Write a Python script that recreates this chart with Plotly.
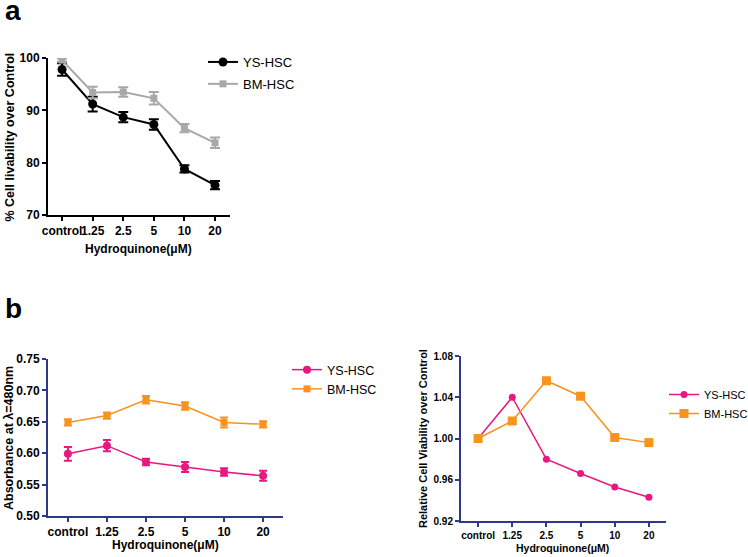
import plotly.graph_objects as go

W, H = 748, 557

categories = ["control", "1.25", "2.5", "5", "10", "20"]

# Panel a
a_ys = [97.8, 91.2, 88.7, 87.3, 78.8, 75.7]
a_ys_err = [1.2, 1.4, 1.0, 1.0, 0.7, 0.8]
a_bm = [99.6, 93.4, 93.5, 92.3, 86.6, 83.8]
a_bm_err = [0.3, 1.1, 0.9, 1.2, 0.8, 1.0]

# Panel b (left)
b_ys = [0.599, 0.612, 0.586, 0.578, 0.570, 0.564]
b_ys_err = [0.011, 0.009, 0.005, 0.008, 0.006, 0.008]
b_bm = [0.649, 0.660, 0.685, 0.675, 0.649, 0.646]
b_bm_err = [0.005, 0.005, 0.006, 0.006, 0.008, 0.005]

# Panel b (right)
c_ys = [1.000, 1.040, 0.980, 0.966, 0.953, 0.943]
c_bm = [1.000, 1.017, 1.056, 1.041, 1.001, 0.996]

PINK = "#E8187F"
ORANGE = "#F7931E"
GRAY = "#A8A8A8"
NAVY = "#2E3A87"
FONT = "Liberation Sans, Arial, sans-serif"

def px(x):
    return x / W

def py(y):
    return 1 - y / H

fig = go.Figure()

# Panel a traces
fig.add_trace(go.Scatter(x=categories, y=a_ys, name="YS-HSC", mode="lines+markers",
                         line=dict(color="black", width=2),
                         marker=dict(symbol="circle", size=9, color="black"),
                         error_y=dict(type="data", array=a_ys_err, color="black", thickness=2, width=5),
                         xaxis="x", yaxis="y", legend="legend", legendgroup="a1"))
fig.add_trace(go.Scatter(x=categories, y=a_bm, name="BM-HSC", mode="lines+markers",
                         line=dict(color=GRAY, width=2),
                         marker=dict(symbol="square", size=7, color=GRAY),
                         error_y=dict(type="data", array=a_bm_err, color=GRAY, thickness=2, width=5),
                         xaxis="x", yaxis="y", legend="legend", legendgroup="a2"))

# Panel b left traces
fig.add_trace(go.Scatter(x=categories, y=b_ys, name="YS-HSC", mode="lines+markers",
                         line=dict(color=PINK, width=1.5),
                         marker=dict(symbol="circle", size=8, color=PINK),
                         error_y=dict(type="data", array=b_ys_err, color=PINK, thickness=2, width=4),
                         xaxis="x2", yaxis="y2", legend="legend2"))
fig.add_trace(go.Scatter(x=categories, y=b_bm, name="BM-HSC", mode="lines+markers",
                         line=dict(color=ORANGE, width=1.5),
                         marker=dict(symbol="square", size=7, color=ORANGE),
                         error_y=dict(type="data", array=b_bm_err, color=ORANGE, thickness=2, width=4),
                         xaxis="x2", yaxis="y2", legend="legend2"))

# Panel b right traces
fig.add_trace(go.Scatter(x=categories, y=c_ys, name="YS-HSC", mode="lines+markers",
                         line=dict(color=PINK, width=1.5),
                         marker=dict(symbol="circle", size=7, color=PINK),
                         xaxis="x3", yaxis="y3", legend="legend3"))
fig.add_trace(go.Scatter(x=categories, y=c_bm, name="BM-HSC", mode="lines+markers",
                         line=dict(color=ORANGE, width=1.5),
                         marker=dict(symbol="square", size=9, color=ORANGE),
                         xaxis="x3", yaxis="y3", legend="legend3"))

def xax(domain, rng, color, size, anchor):
    return dict(domain=domain, range=rng, type="category", showgrid=False, zeroline=False,
                showline=True, linecolor=color, linewidth=2, ticks="outside", ticklen=4,
                tickwidth=1.5, tickcolor=color, tickangle=0, anchor=anchor, automargin=False,
                tickfont=dict(family=FONT, size=size, color="black", weight="bold"))

def yax(domain, rng, dtick, fmt, color, size, anchor):
    return dict(domain=domain, range=rng, dtick=dtick, tick0=rng[0], tickformat=fmt,
                showgrid=False, zeroline=False, showline=True, linecolor=color, linewidth=2,
                ticks="outside", ticklen=4, tickwidth=1.5, tickcolor=color, anchor=anchor,
                automargin=False,
                tickfont=dict(family=FONT, size=size, color="black", weight="bold"))

fig.update_layout(
    width=W, height=H, margin=dict(l=0, r=0, t=0, b=0, autoexpand=False),
    paper_bgcolor="white", plot_bgcolor="white",
    font=dict(family=FONT, color="black"),
    xaxis=xax([px(48), px(230)], [-0.46, 5.49], "black", 12, "y"),
    yaxis=yax([py(215), py(58)], [70, 100], 10, "d", "black", 12, "x"),
    xaxis2=xax([px(48), px(283)], [-0.51, 5.51], NAVY, 12, "y2"),
    yaxis2=yax([py(516), py(359)], [0.50, 0.75], 0.05, ".2f", NAVY, 12, "x2"),
    xaxis3=xax([px(461), px(666)], [-0.5, 5.5], NAVY, 10, "y3"),
    yaxis3=yax([py(521), py(356)], [0.92, 1.08], 0.04, ".2f", NAVY, 10, "x3"),
    legend=dict(x=px(203), y=py(47), xanchor="left", yanchor="top",
                font=dict(family=FONT, size=13, color="black"), bgcolor="rgba(0,0,0,0)",
                tracegroupgap=2, itemwidth=30),
    legend2=dict(x=px(287), y=py(355), xanchor="left", yanchor="top",
                 font=dict(family=FONT, size=12.5, color="black"), bgcolor="rgba(0,0,0,0)",
                 itemwidth=30),
    legend3=dict(x=px(664), y=py(380), xanchor="left", yanchor="top",
                 font=dict(family=FONT, size=11, color="black"), bgcolor="rgba(0,0,0,0)",
                 itemwidth=30),
    showlegend=True,
)

ann = [
    dict(text="<b>a</b>", x=px(3), y=py(15), xanchor="left", yanchor="middle", font=dict(size=28),
         height=22, valign="bottom"),
    dict(text="<b>b</b>", x=px(3), y=py(291), xanchor="left", yanchor="top", font=dict(size=28)),
    dict(text="<b>Hydroquinone(μM)</b>", x=px(138), y=py(249), xanchor="center", yanchor="middle", font=dict(size=12)),
    dict(text="<b>% Cell livability over Control</b>", x=px(10), y=py(137.5), textangle=-90,
         xanchor="center", yanchor="middle", font=dict(size=12.5)),
    dict(text="<b>Hydroquinone(μM)</b>", x=px(165), y=py(545), xanchor="center", yanchor="middle", font=dict(size=12)),
    dict(text="<b>Absorbance at λ=480nm</b>", x=px(9), y=py(438), textangle=-90,
         xanchor="center", yanchor="middle", font=dict(size=12.5)),
    dict(text="<b>Hydroquinone(μM)</b>", x=px(562), y=py(548), xanchor="center", yanchor="middle", font=dict(size=10.5)),
    dict(text="<b>Relative Cell Viability over Control</b>", x=px(423), y=py(439), textangle=-90,
         xanchor="center", yanchor="middle", font=dict(size=11)),
]
for a in ann:
    a.update(xref="paper", yref="paper", showarrow=False)
    a["font"] = dict(family=FONT, color="black", **a["font"])
fig.update_layout(annotations=ann)

fig.write_html("out.html", config={"displayModeBar": False},
               post_script="document.body.style.margin='0px';")
